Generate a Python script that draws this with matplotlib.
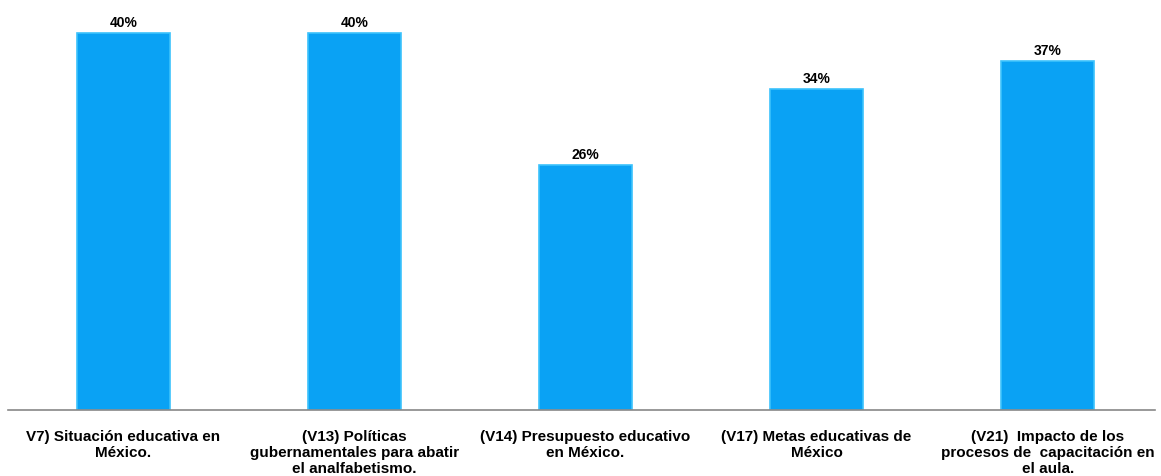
import matplotlib.pyplot as plt
import numpy as np

plt.rcParams['font.family'] = ['Liberation Sans', 'DejaVu Sans']

categories = ["V7) Situación educativa en\nMéxico.",
              "(V13) Políticas\ngubernamentales para abatir\nel analfabetismo.",
              "(V14) Presupuesto educativo\nen México.",
              "(V17) Metas educativas de\nMéxico",
              "(V21)  Impacto de los\nprocesos de  capacitación en\nel aula."]
values = [40, 40, 26, 34, 37]

fig = plt.figure(figsize=(11.61, 4.77), dpi=100)
ax = fig.add_axes([0.0069, 0.1384, 0.988, 0.830])

x = np.arange(len(values))
bars = ax.bar(x, values, width=0.4, color='#0aa2f4', edgecolor='#3cc2fc', linewidth=1.2)

for xi, v in zip(x, values):
    ax.text(xi, v + 0.45, f"{v}%", ha='center', va='bottom', fontsize=10, fontweight='bold')

ax.set_xlim(-0.5, 4.465)
ax.set_ylim(0, 42)
ax.set_xticks(x)
ax.set_xticklabels(categories, fontsize=11, fontweight='bold', linespacing=1.17)
ax.tick_params(axis='x', length=0, pad=14)
ax.set_yticks([])
for s in ['top', 'right', 'left']:
    ax.spines[s].set_visible(False)
ax.spines['bottom'].set_color('#888888')
ax.spines['bottom'].set_linewidth(1.2)

fig.savefig('out.png', dpi=100)
